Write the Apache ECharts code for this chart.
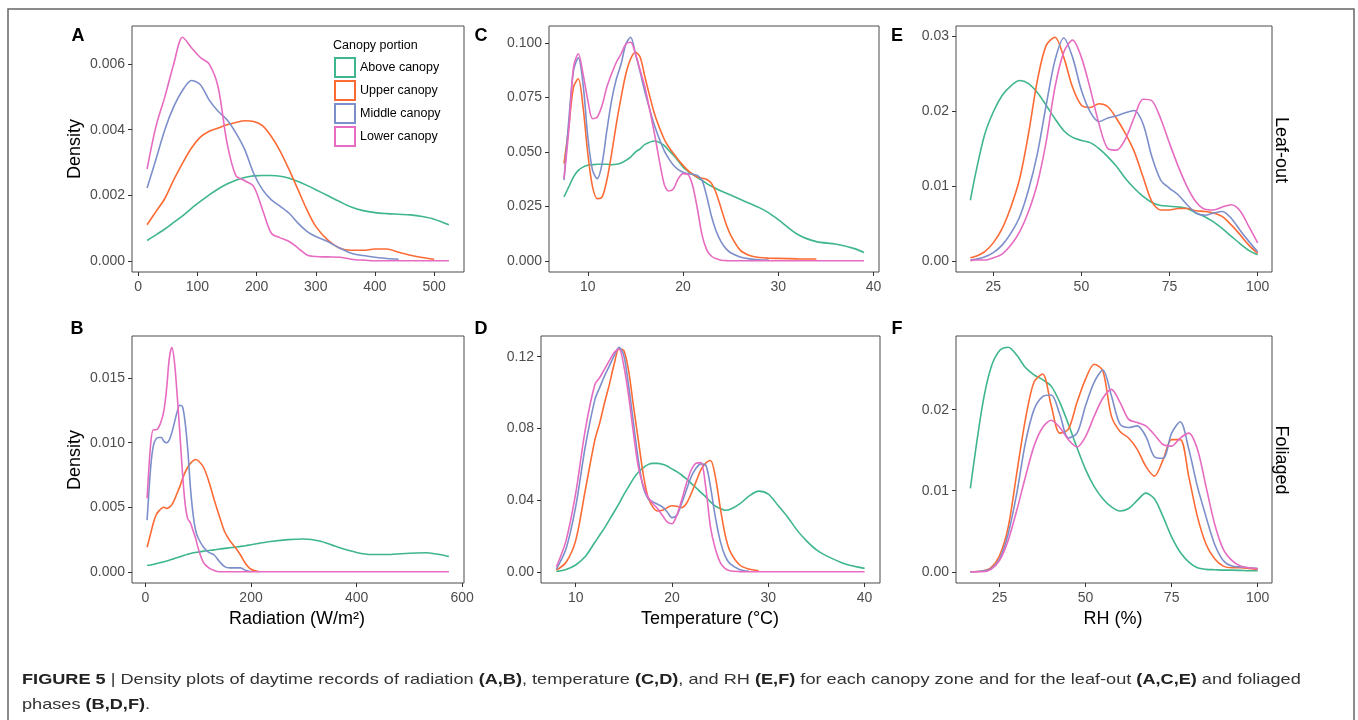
<!DOCTYPE html>
<html><head><meta charset="utf-8">
<script src="https://cdn.jsdelivr.net/npm/echarts@6/dist/echarts.min.js"></script>
<style>html,body{margin:0;padding:0;background:#fff}#c{width:1358px;height:720px}</style>
</head><body><div id="c"></div>
<script>
// ---------- data ----------
const seriesNames = ['Above canopy', 'Upper canopy', 'Middle canopy', 'Lower canopy'];
const colors = ['#3fb68b', '#fd6b35', '#7d8fcb', '#e66bc1'];

// Panel A: radiation, leaf-out
const radLeafX = [15,30,45,60,75,90,105,120,135,150,165,180,195,210,225,240,255,270,285,300,320,340,360,380,400,420,440,460,480,500,525];
const radLeafAbove = [0.00062,0.00079,0.00097,0.00117,0.00137,0.0016,0.00181,0.00201,0.00219,0.00234,0.00246,0.00254,0.00259,0.0026,0.0026,0.00258,0.00252,0.00242,0.0023,0.00217,0.00199,0.00181,0.00164,0.00153,0.00147,0.00144,0.00142,0.0014,0.00135,0.00127,0.0011];
const radLeafUpper = [0.0011,0.0015,0.0019,0.00247,0.00298,0.00344,0.00377,0.00395,0.00405,0.00415,0.00422,0.00427,0.00425,0.00412,0.00379,0.00334,0.00278,0.00217,0.00156,0.00105,0.00064,0.00039,0.00032,0.00032,0.00036,0.00036,0.00026,0.00017,0.0001,0.00005,null];
const radLeafMiddle = [0.00222,0.0031,0.004,0.0047,0.0052,0.0055,0.00537,0.0049,0.00456,0.0043,0.0039,0.00339,0.00267,0.00217,0.00186,0.00166,0.00145,0.00115,0.0009,0.00074,0.00059,0.00039,0.00023,0.00016,0.00011,0.00007,0.00005,null,null,null,null];
const radLeafLower = [0.0028,0.0041,0.005,0.006,0.00682,0.0065,0.0062,0.006,0.0053,0.0036,0.0026,0.00244,0.00227,0.00156,0.00084,0.0007,0.00059,0.00039,0.00018,0.00013,0.00012,0.00011,0.00005,0.00002,0,0,0,0,0,0,0];

// Panel B: radiation, foliaged
const radFolX = [3,10,15,20,25,30,35,40,45,50,55,60,65,70,75,80,85,90,95,100,110,120,130,140,150,160,170,180,190,200,215,240,270,300,330,360,400,430,460,500,530,575];
const radFolAbove = [0.0005,0.00052,0.00057,0.00063,0.00068,0.00073,0.00078,0.00084,0.0009,0.00097,0.00103,0.0011,0.00116,0.00123,0.0013,0.00136,0.00141,0.00147,0.0015,0.00152,0.0016,0.00165,0.0017,0.00176,0.00181,0.00186,0.00191,0.00197,0.00202,0.0021,0.0022,0.00236,0.00249,0.00254,0.00239,0.00197,0.0015,0.00134,0.00134,0.00144,0.00147,0.00118];
const radFolUpper = [0.0019,0.003,0.0038,0.0044,0.0047,0.0049,0.005,0.0049,0.005,0.0052,0.0056,0.0061,0.0066,0.0072,0.0077,0.0081,0.0084,0.0086,0.0087,0.0086,0.0081,0.007,0.0056,0.0043,0.0031,0.0024,0.0019,0.0013,0.0006,0.0002,0,null,null,null,null,null,null,null,null,null,null,null];
const radFolMiddle = [0.004,0.0082,0.0098,0.0103,0.0104,0.0104,0.0101,0.01,0.0102,0.0108,0.0116,0.0124,0.0129,0.0128,0.0116,0.0095,0.0066,0.0045,0.0032,0.0026,0.0019,0.0015,0.0013,0.0008,0.0004,0.0003,0.0003,0.0003,0.0001,0,null,null,null,null,null,null,null,null,null,null,null,null];
const radFolLower = [0.0057,0.01,0.011,0.011,0.0112,0.0117,0.0125,0.0142,0.0165,0.0174,0.0162,0.0137,0.0108,0.0077,0.0053,0.0041,0.0038,0.0032,0.0026,0.0018,0.0007,0.0003,0.0001,0,0,0,0,0,0,0,0,0,0,0,0,0,0,0,0,0,0,0];

// Panel C: temperature, leaf-out
const tempLeafX = [7.5,8,8.5,9,9.5,10,10.5,11,11.5,12,12.5,13,13.5,14,14.5,15,15.5,16,17,18,18.5,19,19.5,20,20.5,21,21.5,22,22.5,23,23.5,24,24.5,25,26,27,28,29,30,32,34,36,38,39];
const tempLeafAbove = [0.0293,0.0339,0.0385,0.0415,0.043,0.0438,0.0441,0.0443,0.0443,0.0443,0.0441,0.0443,0.0449,0.0461,0.0476,0.0499,0.0514,0.0534,0.055,0.053,0.0507,0.0484,0.0458,0.043,0.0412,0.0397,0.0382,0.0369,0.0354,0.0342,0.0331,0.032,0.0311,0.0302,0.0282,0.0263,0.0244,0.022,0.0189,0.0122,0.0088,0.0077,0.0056,0.0038];
const tempLeafUpper = [0.0446,0.0614,0.0797,0.0835,0.0705,0.0492,0.0339,0.0285,0.0293,0.037,0.0492,0.0629,0.0751,0.0858,0.0927,0.0957,0.0934,0.0843,0.0675,0.056,0.0522,0.0492,0.0464,0.0438,0.0415,0.0397,0.0385,0.0379,0.0373,0.0354,0.0308,0.024,0.0171,0.0118,0.0049,0.0024,0.0015,0.0012,0.0011,0.0009,0.0008,null,null,null];
const tempLeafMiddle = [0.037,0.0644,0.0873,0.0931,0.0812,0.0568,0.0415,0.0377,0.0446,0.0598,0.0736,0.0835,0.0904,0.0995,0.1026,0.095,0.0866,0.0774,0.0621,0.0507,0.0469,0.0438,0.0418,0.0406,0.04,0.0397,0.0392,0.0369,0.0293,0.0202,0.0133,0.0087,0.0056,0.0037,0.0018,0.0009,0.0005,0.0003,null,null,null,null,null,null];
const tempLeafLower = [0.0377,0.0598,0.0889,0.095,0.0858,0.0736,0.0652,0.066,0.0713,0.0797,0.0858,0.0911,0.095,0.0995,0.1003,0.095,0.0873,0.0797,0.0583,0.0354,0.032,0.0331,0.0377,0.04,0.0397,0.0347,0.024,0.0118,0.0049,0.0021,0.0009,0.0003,0.0001,0,0,0,0,0,0,0,0,0,0,0];

// Panel D: temperature, foliaged
const tempFolX = [8,9,10,11,12,12.5,13,13.5,14,14.5,15,15.5,16,16.5,17,17.5,18,18.5,19,19.5,20,20.5,21,21.5,22,22.5,23,23.5,24,24.5,25,25.5,26,27,28,29,30,31,32,33,34,35,36,38,40];
const tempFolAbove = [0.0002,0.0013,0.0038,0.0085,0.0165,0.0205,0.0245,0.029,0.0335,0.038,0.043,0.0475,0.052,0.0555,0.058,0.0598,0.0605,0.0605,0.06,0.059,0.0574,0.0559,0.054,0.0518,0.0493,0.0469,0.0443,0.0418,0.039,0.0366,0.0353,0.0343,0.0347,0.0377,0.0422,0.045,0.0433,0.0371,0.0306,0.0231,0.0171,0.0122,0.009,0.0043,0.0019];
const tempFolUpper = [0.0009,0.0053,0.0174,0.0456,0.0737,0.0831,0.0943,0.1046,0.1159,0.1243,0.1234,0.1121,0.0924,0.0737,0.0549,0.0418,0.0362,0.0339,0.0343,0.0358,0.0368,0.0366,0.0358,0.0381,0.0437,0.0503,0.0568,0.0606,0.0621,0.0531,0.0362,0.0212,0.0118,0.0039,0.0015,0.0006,null,null,null,null,null,null,null,null,null];
const tempFolMiddle = [0.0015,0.0128,0.0362,0.0699,0.0962,0.1028,0.1093,0.1149,0.1206,0.1253,0.1206,0.1037,0.0831,0.0624,0.0474,0.0409,0.039,0.0377,0.0362,0.0334,0.0302,0.0315,0.0381,0.0456,0.0531,0.0578,0.0602,0.0596,0.0474,0.0306,0.0174,0.009,0.0047,0.0013,0.0002,null,null,null,null,null,null,null,null,null,null];
const tempFolLower = [0.0028,0.0174,0.0437,0.0793,0.1046,0.1084,0.1131,0.1178,0.1224,0.1243,0.1149,0.0981,0.0774,0.0587,0.0484,0.0418,0.0381,0.0353,0.0315,0.0278,0.0268,0.0315,0.0399,0.0493,0.0568,0.0606,0.0609,0.0474,0.0249,0.0128,0.0053,0.0019,0.0006,0.0001,0,0,0,0,0,0,0,0,0,0,0];

// Panel E: RH, leaf-out
const rhLeafX = [18.5,20,22.5,25,27.5,30,32.5,35,37.5,40,42.5,45,47.5,50,52.5,55,57.5,60,62.5,65,67.5,70,72.5,75,77.5,80,82.5,85,87.5,90,92.5,95,97.5,100];
const rhLeafAbove = [0.0081,0.0117,0.0168,0.0199,0.0221,0.0234,0.0241,0.0237,0.0225,0.0208,0.019,0.0174,0.0165,0.0161,0.0158,0.015,0.0139,0.0126,0.011,0.0097,0.0086,0.0078,0.0074,0.0073,0.0072,0.007,0.0064,0.0059,0.0052,0.0043,0.0033,0.0023,0.0014,0.0008];
const rhLeafUpper = [0.0004,0.0006,0.0012,0.0024,0.0043,0.0072,0.011,0.017,0.0241,0.0288,0.0299,0.0272,0.0232,0.0208,0.0205,0.021,0.0206,0.019,0.017,0.0146,0.0112,0.0079,0.0068,0.0068,0.007,0.007,0.0067,0.0066,0.0064,0.0059,0.0048,0.0035,0.0021,0.001];
const rhLeafMiddle = [0.0001,0.0002,0.0005,0.0011,0.0021,0.0037,0.0059,0.0095,0.0143,0.0208,0.0268,0.0298,0.0272,0.0228,0.0199,0.0186,0.0191,0.0194,0.0198,0.0201,0.0183,0.0139,0.0108,0.0097,0.0088,0.0075,0.0064,0.0061,0.0064,0.0066,0.0057,0.0041,0.0026,0.0012];
const rhLeafLower = [0,0.0001,0.0001,0.0004,0.0009,0.0021,0.0039,0.0066,0.0103,0.0159,0.0232,0.0279,0.0295,0.0272,0.023,0.0183,0.015,0.0148,0.0163,0.0192,0.0216,0.0214,0.019,0.0157,0.0126,0.0099,0.0079,0.0069,0.0068,0.0072,0.0075,0.0067,0.0046,0.0024];

// Panel F: RH, foliaged
const rhFolX = [16.5,20,22.5,25,27.5,30,32.5,35,37.5,40,42.5,45,47.5,50,52.5,55,57.5,60,62.5,65,67.5,70,72.5,75,77.5,80,82.5,85,87.5,90,92.5,95,97.5,100];
const rhFolAbove = [0.0103,0.0205,0.0252,0.0273,0.0277,0.0267,0.0252,0.0243,0.0237,0.0229,0.0209,0.0182,0.0153,0.0126,0.0105,0.009,0.008,0.0075,0.0078,0.0088,0.0097,0.009,0.0068,0.0043,0.0024,0.0012,0.0005,0.0003,0.00025,0.0002,0.0002,0.00017,0.00012,0.00012];
const rhFolUpper = [0,0.0001,0.0005,0.002,0.0055,0.0122,0.0188,0.0234,0.0244,0.0205,0.0171,0.0176,0.0209,0.0238,0.0256,0.0248,0.0192,0.0173,0.0165,0.0151,0.013,0.0118,0.0138,0.0163,0.0163,0.0117,0.0068,0.0034,0.0016,0.0007,0.0005,0.0005,0.0004,0.0003];
const rhFolMiddle = [0,0.0001,0.0004,0.0016,0.0047,0.0097,0.0159,0.02,0.0216,0.0218,0.0194,0.0165,0.0171,0.0205,0.0234,0.0249,0.0217,0.0182,0.0178,0.018,0.0167,0.0142,0.014,0.0171,0.0185,0.0151,0.0105,0.0068,0.0034,0.0014,0.0007,0.0006,0.0005,0.0004];
const rhFolLower = [0,0,0.0003,0.0014,0.0039,0.0076,0.0117,0.0155,0.0178,0.0187,0.0178,0.0163,0.0154,0.0167,0.0192,0.0214,0.0225,0.0209,0.0188,0.0184,0.018,0.0169,0.0157,0.0155,0.0165,0.0171,0.0151,0.0105,0.0059,0.0028,0.0014,0.0007,0.0005,0.0004];

// Tick labels
const xTicksRadA = [0,100,200,300,400,500];
const xTicksRadB = [0,200,400,600];
const xTicksTemp = [10,20,30,40];
const xTicksRH = [25,50,75,100];
const yTicksA = [0,0.002,0.004,0.006];
const yTicksB = [0,0.005,0.010,0.015];
const yTicksC = [0,0.025,0.050,0.075,0.100];
const yTicksD = [0,0.04,0.08,0.12];
const yTicksE = [0,0.01,0.02,0.03];
const yTicksF = [0,0.01,0.02];

const panelLetters = ['A','B','C','D','E','F'];
const xTitles = ['Radiation (W/m\u00B2)', 'Temperature (\u00B0C)', 'RH (%)'];
const stripLabels = ['Leaf-out', 'Foliaged'];
const legendTitle = 'Canopy portion';
const yTitle = 'Density';

// ---------- layout ----------
const FONT = '"Liberation Sans", Arial, Helvetica, sans-serif';
const panels = [
  {x: radLeafX,  ys: [radLeafAbove, radLeafUpper, radLeafMiddle, radLeafLower], xt: xTicksRadA, yt: yTicksA, yd: 3, g: [132, 26, 332, 246]},
  {x: radFolX,   ys: [radFolAbove, radFolUpper, radFolMiddle, radFolLower],     xt: xTicksRadB, yt: yTicksB, yd: 3, g: [132, 336, 332, 247]},
  {x: tempLeafX, ys: [tempLeafAbove, tempLeafUpper, tempLeafMiddle, tempLeafLower], xt: xTicksTemp, yt: yTicksC, yd: 3, g: [549, 26, 330, 246]},
  {x: tempFolX,  ys: [tempFolAbove, tempFolUpper, tempFolMiddle, tempFolLower], xt: xTicksTemp, yt: yTicksD, yd: 2, g: [541, 336, 339, 247]},
  {x: rhLeafX,   ys: [rhLeafAbove, rhLeafUpper, rhLeafMiddle, rhLeafLower],     xt: xTicksRH, yt: yTicksE, yd: 2, g: [956, 26, 316, 246]},
  {x: rhFolX,    ys: [rhFolAbove, rhFolUpper, rhFolMiddle, rhFolLower],         xt: xTicksRH, yt: yTicksF, yd: 2, g: [956, 336, 316, 247]}
];

const grids = [], xAxes = [], yAxes = [], series = [];
panels.forEach((p, i) => {
  grids.push({left: p.g[0], top: p.g[1], width: p.g[2], height: p.g[3], show: true,
    borderColor: '#4a4a4a', borderWidth: 1, backgroundColor: '#fff'});
  let xlo = Infinity, xhi = -Infinity, ylo = 0, yhi = -Infinity;
  p.ys.forEach(ys => ys.forEach((v, k) => {
    if (v === null) return;
    xlo = Math.min(xlo, p.x[k]); xhi = Math.max(xhi, p.x[k]);
    ylo = Math.min(ylo, v); yhi = Math.max(yhi, v);
  }));
  const xp = (xhi - xlo) * 0.05, yp = (yhi - ylo) * 0.05;
  const common = {
    type: 'value', gridIndex: i, splitLine: {show: false}, axisLine: {show: false, onZero: false}
  };
  xAxes.push(Object.assign({}, common, {
    position: 'bottom',
    min: xlo - xp, max: xhi + xp,
    axisTick: {show: true, customValues: p.xt, length: 4, lineStyle: {color: '#333', width: 1}},
    axisLabel: {customValues: p.xt, formatter: v => String(v), margin: 8, fontSize: 14, color: '#4d4d4d', fontFamily: FONT}
  }));
  yAxes.push(Object.assign({}, common, {
    position: 'left',
    min: ylo - yp, max: yhi + yp,
    axisTick: {show: true, customValues: p.yt, length: 4, lineStyle: {color: '#333', width: 1}},
    axisLabel: {customValues: p.yt, formatter: v => v.toFixed(p.yd), margin: 7, fontSize: 14, color: '#4d4d4d', fontFamily: FONT}
  }));
  p.ys.forEach((ys, s) => {
    const data = [];
    ys.forEach((v, k) => { if (v !== null) data.push([p.x[k], v]); });
    series.push({
      type: 'line', name: seriesNames[s], xAxisIndex: i, yAxisIndex: i, data: data,
      symbol: 'none', showSymbol: false, smooth: 0.3, clip: true,
      lineStyle: {width: 1.6, color: colors[s]}, itemStyle: {color: colors[s]},
      emphasis: {disabled: true}, z: 2 + s
    });
  });
});

function txt(x, y, text, opts) {
  return Object.assign({type: 'text', x: x, y: y, silent: true,
    style: Object.assign({text: text, fill: '#000', fontFamily: FONT, fontSize: 18,
      align: 'center', verticalAlign: 'middle', textAlign: 'center', textVerticalAlign: 'middle'}, opts.style || {})},
    opts.el || {});
}

const letterPos = [[78, 36], [77, 329], [481, 36], [481, 329], [897, 36], [897, 329]];
const graphics = [];
graphics.push({type: 'rect', silent: true, shape: {x: 8, y: 9, width: 1346, height: 730},
  style: {fill: 'none', stroke: '#666', lineWidth: 1.5}});
panelLetters.forEach((l, i) => graphics.push(txt(letterPos[i][0], letterPos[i][1], l, {style: {fontWeight: 'bold', fontSize: 18}})));
graphics.push(txt(75, 149, yTitle, {el: {rotation: Math.PI / 2}}));
graphics.push(txt(75, 460, yTitle, {el: {rotation: Math.PI / 2}}));
graphics.push(txt(297, 619, xTitles[0], {}));
graphics.push(txt(710, 619, xTitles[1], {}));
graphics.push(txt(1113, 619, xTitles[2], {}));
graphics.push(txt(1281, 150, stripLabels[0], {el: {rotation: -Math.PI / 2}}));
graphics.push(txt(1281, 460, stripLabels[1], {el: {rotation: -Math.PI / 2}}));
graphics.push(txt(333, 46, legendTitle, {style: {fontSize: 12.5, align: 'left', textAlign: 'left'}}));

const capRich = {
  n: {fontFamily: FONT, fontSize: 15, fill: '#333'},
  b: {fontFamily: FONT, fontSize: 15, fontWeight: 'bold', fill: '#222'}
};
graphics.push({type: 'text', x: 22, y: 680, scaleX: 1.21, silent: true, style: {
  text: '{b|FIGURE 5}{n| | Density plots of daytime records of radiation }{b|(A,B)}{n|, temperature }{b|(C,D)}{n|, and RH }{b|(E,F)}{n| for each canopy zone and for the leaf-out }{b|(A,C,E)}{n| and foliaged}',
  rich: capRich, fontFamily: FONT, fontSize: 15, fill: '#333', align: 'left', verticalAlign: 'middle', textAlign: 'left', textVerticalAlign: 'middle'}});
graphics.push({type: 'text', x: 22, y: 705, scaleX: 1.21, silent: true, style: {
  text: '{n|phases }{b|(B,D,F)}{n|.}',
  rich: capRich, fontFamily: FONT, fontSize: 15, fill: '#333', align: 'left', verticalAlign: 'middle', textAlign: 'left', textVerticalAlign: 'middle'}});

const chart = echarts.init(document.getElementById('c'), null, {renderer: 'canvas'});
chart.setOption({
  animation: false,
  backgroundColor: '#fff',
  grid: grids, xAxis: xAxes, yAxis: yAxes, series: series,
  legend: {
    left: 334, top: 57, padding: 0, orient: 'vertical', itemWidth: 20, itemHeight: 19, itemGap: 2,
    selectedMode: false, icon: 'rect',
    data: seriesNames.map((n, i) => ({name: n, icon: 'rect',
      itemStyle: {color: '#fff', borderColor: colors[i], borderWidth: 2}})),
    textStyle: {fontSize: 12.5, color: '#000', fontFamily: FONT}
  },
  graphic: graphics
});
</script></body></html>
